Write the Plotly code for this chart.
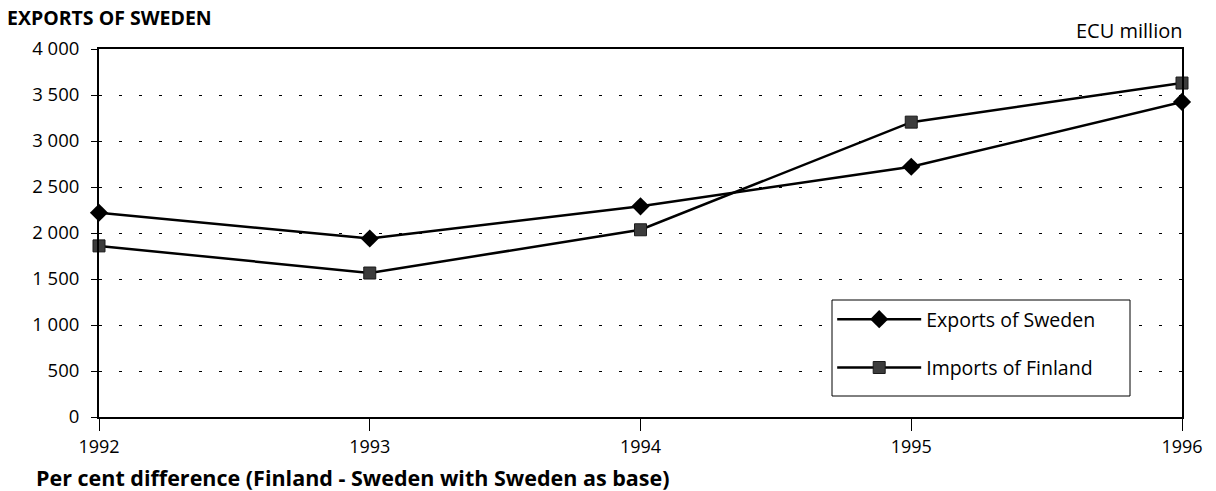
import plotly.graph_objects as go

# Annual values, ECU million
years = [1992, 1993, 1994, 1995, 1996]
exports_sweden = [2220, 1940, 2290, 2720, 3425]
imports_finland = [1860, 1565, 2035, 3205, 3630]

y_tick_vals = [0, 500, 1000, 1500, 2000, 2500, 3000, 3500, 4000]
y_tick_text = ["0", "500", "1 000", "1 500", "2 000", "2 500", "3 000", "3 500", "4 000"]
x_tick_vals = years
x_tick_text = ["1992", "1993", "1994", "1995", "1996"]

FONT = "Open Sans"

fig = go.Figure()
fig.add_trace(go.Scatter(
    x=years, y=exports_sweden, name="Exports of Sweden",
    mode="lines+markers", legendgroup="a", cliponaxis=False,
    line=dict(color="black", width=2.5),
    marker=dict(symbol="diamond", size=14, color="black"),
))
fig.add_trace(go.Scatter(
    x=years, y=imports_finland, name="Imports of Finland",
    mode="lines+markers", legendgroup="b", cliponaxis=False,
    line=dict(color="black", width=2.5),
    marker=dict(symbol="square", size=12, color="#3c3c3c",
                line=dict(color="#1a1a1a", width=1)),
))

fig.update_layout(
    width=1216, height=491,
    margin=dict(l=99, r=34, t=49, b=74),
    paper_bgcolor="white", plot_bgcolor="white",
    font=dict(family=FONT, size=18, color="black"),
    showlegend=True,
    legend=dict(
        x=0.677, y=0.318, xanchor="left", yanchor="top",
        borderwidth=0, bgcolor="rgba(0,0,0,0)",
        font=dict(family=FONT, size=19.5),
        tracegroupgap=20, itemwidth=84,
    ),
    xaxis=dict(
        range=[1992, 1996], tickvals=x_tick_vals, ticktext=x_tick_text,
        showgrid=False, zeroline=False,
        showline=True, linecolor="black", linewidth=2, mirror=True,
        ticks="outside", ticklen=12, tickcolor="black", tickwidth=1,
        tickfont=dict(size=18),
    ),
    yaxis=dict(
        range=[0, 4000], tickvals=y_tick_vals, ticktext=y_tick_text,
        showgrid=True, gridcolor="black", gridwidth=1, griddash="3px,17px",
        zeroline=False,
        showline=True, linecolor="black", linewidth=2, mirror=True,
        ticks="outside", ticklen=6, tickcolor="black", tickwidth=1,
        ticklabelstandoff=8, tickfont=dict(size=18.5),
    ),
)

# Framed white panel behind the legend entries
fig.add_shape(
    type="rect", xref="paper", yref="paper",
    x0=733 / 1083, x1=1031 / 1083, y0=21 / 368, y1=117 / 368,
    line=dict(color="black", width=1), fillcolor="white", layer="above",
)

fig.add_annotation(
    text="<b>EXPORTS OF SWEDEN</b>", xref="paper", yref="paper",
    x=-94 / 1083, y=1 + 31 / 368, xanchor="left", yanchor="middle",
    showarrow=False, font=dict(size=19.5),
)
fig.add_annotation(
    text="ECU million", xref="paper", yref="paper",
    x=1 + 3 / 1083, y=1 + 19 / 368, xanchor="right", yanchor="middle",
    showarrow=False, font=dict(size=20),
)
fig.add_annotation(
    text="<b>Per cent difference (Finland - Sweden with Sweden as base)</b>",
    xref="paper", yref="paper",
    x=-65 / 1083, y=-60 / 368, xanchor="left", yanchor="middle",
    showarrow=False, font=dict(size=21.5),
)

fig.write_html("out.html")
